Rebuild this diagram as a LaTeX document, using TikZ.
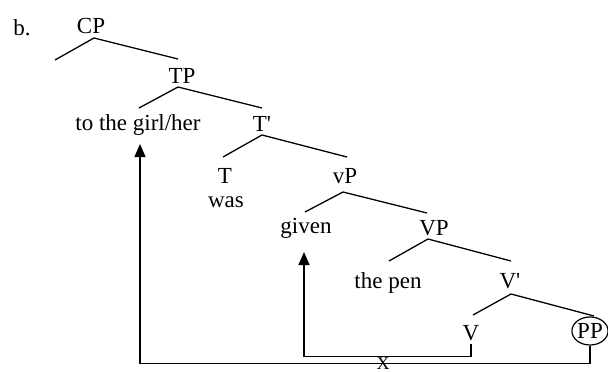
\documentclass[tikz,border=0pt]{standalone}
\usepackage{fontspec}
\setmainfont{Liberation Serif}
\usetikzlibrary{arrows.meta,shapes.geometric}

\begin{document}
\begin{tikzpicture}[x=1pt,y=-1pt,
  lbl/.style={inner sep=0pt,anchor=base,font=\fontsize{23}{27}\selectfont},
  branch/.style={line width=1.3pt},
  movearrow/.style={line width=1.3pt,-{Triangle[length=13pt,width=11pt]}},
  circled/.style={ellipse,draw,line width=1.2pt,inner sep=0pt,
    minimum width=36pt,minimum height=28pt,font=\fontsize{23}{27}\selectfont}]
  \useasboundingbox (0,0) rectangle (608,372);

  % labels
  \node[lbl] (ex)    at (22,35)  {b.};
  \node[lbl] (CP)    at (91,34)  {CP};
  \node[lbl] (TP)    at (182,83) {TP};
  \node[lbl] (spec)  at (138,130) {to the girl/her};
  \node[lbl] (Tbar)  at (262,131) {T\textquotesingle};
  \node[lbl] (T)     at (225,183) {T};
  \node[lbl] (was)   at (226,207) {was};
  \node[lbl] (vP)    at (345,183) {vP};
  \node[lbl] (given) at (306,233) {given};
  \node[lbl] (VP)    at (434,235) {VP};
  \node[lbl] (pen)   at (388,288) {the pen};
  \node[lbl] (Vbar)  at (510,288) {V\textquotesingle};
  \node[lbl] (V)     at (471,340) {V};
  \node[circled] (PP) at (590,331) {PP};
  \node[inner sep=0pt,anchor=base,font=\fontsize{18}{22}\selectfont] (cross) at (383,369) {X};

  % branch points
  \coordinate (CP-j) at (94,38);   \coordinate (CP-l) at (55,60);   \coordinate (CP-r) at (178,59);
  \coordinate (TP-j) at (178,87);  \coordinate (TP-l) at (139,108); \coordinate (TP-r) at (262,108);
  \coordinate (Tb-j) at (262,135); \coordinate (Tb-l) at (223,157); \coordinate (Tb-r) at (347,157);
  \coordinate (vP-j) at (343,192); \coordinate (vP-l) at (305,212); \coordinate (vP-r) at (427,213);
  \coordinate (VP-j) at (428,239); \coordinate (VP-l) at (389,261); \coordinate (VP-r) at (511,261);
  \coordinate (Vb-j) at (511,294); \coordinate (Vb-l) at (473,315); \coordinate (Vb-r) at (594,316);

  \draw[branch] (CP-l) -- (CP-j) -- (CP-r);
  \draw[branch] (TP-l) -- (TP-j) -- (TP-r);
  \draw[branch] (Tb-l) -- (Tb-j) -- (Tb-r);
  \draw[branch] (vP-l) -- (vP-j) -- (vP-r);
  \draw[branch] (VP-l) -- (VP-j) -- (VP-r);
  \draw[branch] (Vb-l) -- (Vb-j) -- (Vb-r);

  % movement paths
  \coordinate (given-tip) at (304,252);
  \coordinate (spec-tip)  at (140,144);
  \draw[movearrow] ([yshift=-3pt]V.south) -- ++(0,13) -| (given-tip);
  \draw[movearrow] (PP.south) -- ++(0,18) -| (spec-tip);
\end{tikzpicture}
\end{document}
